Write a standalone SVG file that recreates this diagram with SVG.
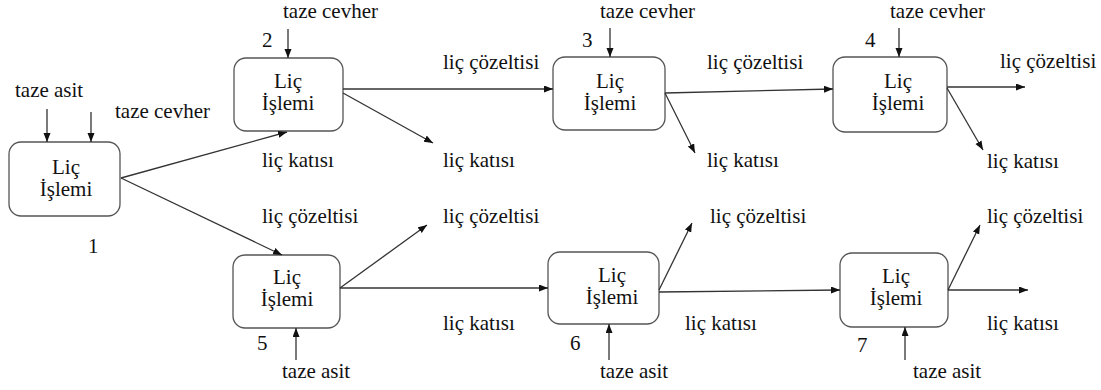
<svg xmlns="http://www.w3.org/2000/svg" width="1101" height="390" viewBox="0 0 1101 390">
<style>
text{font-family:'Liberation Serif','Times New Roman','DejaVu Serif',serif;font-size:21px;fill:#111}
.box{fill:#fff;stroke:#555;stroke-width:1.3}
.c line{stroke:#333;stroke-width:1.3;marker-end:url(#ah)}
.m{text-anchor:middle}
</style>
<defs>
<marker id="ah" markerUnits="userSpaceOnUse" markerWidth="10" markerHeight="8" refX="9" refY="3.5" orient="auto">
<path d="M0,0 L9,3.5 L0,7 z" fill="#111"/>
</marker>
</defs>
<rect width="1101" height="390" fill="#fff"/>
<g font-family="Liberation Serif, Times New Roman, serif" font-size="21">
<g id="n1"><rect class="box" x="9" y="142" width="111" height="74" rx="12"/><text class="m" x="66" y="174">Liç</text><text class="m" x="66" y="196">İşlemi</text></g>
<g id="n2"><rect class="box" x="234" y="58" width="109" height="73" rx="12"/><text class="m" x="288" y="88">Liç</text><text class="m" x="288" y="110">İşlemi</text></g>
<g id="n3"><rect class="box" x="553" y="57" width="112" height="73" rx="12"/><text class="m" x="610" y="88">Liç</text><text class="m" x="610" y="110">İşlemi</text></g>
<g id="n4"><rect class="box" x="833" y="57" width="114" height="75" rx="12"/><text class="m" x="898" y="88">Liç</text><text class="m" x="898" y="110">İşlemi</text></g>
<g id="n5"><rect class="box" x="233" y="255" width="107" height="73" rx="12"/><text class="m" x="287" y="284">Liç</text><text class="m" x="287" y="306">İşlemi</text></g>
<g id="n6"><rect class="box" x="548" y="252" width="111" height="72" rx="12"/><text class="m" x="612" y="282">Liç</text><text class="m" x="612" y="304">İşlemi</text></g>
<g id="n7"><rect class="box" x="840" y="253" width="108" height="74" rx="12"/><text class="m" x="896" y="283">Liç</text><text class="m" x="896" y="305">İşlemi</text></g>
<g class="c" id="connectors">
<line x1="47" y1="109" x2="47" y2="142"/>
<line x1="91" y1="112" x2="91" y2="142"/>
<line x1="121" y1="178" x2="287" y2="132"/>
<line x1="121" y1="178" x2="282" y2="255"/>
<line x1="288" y1="29" x2="288" y2="58"/>
<line x1="343" y1="89" x2="553" y2="89"/>
<line x1="343" y1="93" x2="433" y2="143"/>
<line x1="610" y1="28" x2="610" y2="57"/>
<line x1="665" y1="93" x2="833" y2="89"/>
<line x1="665" y1="93" x2="695" y2="153"/>
<line x1="899" y1="28" x2="899" y2="57"/>
<line x1="947" y1="87" x2="1025" y2="87"/>
<line x1="947" y1="88" x2="983" y2="150"/>
<line x1="340" y1="288" x2="427" y2="225"/>
<line x1="340" y1="288" x2="548" y2="288"/>
<line x1="296" y1="360" x2="296" y2="328"/>
<line x1="659" y1="290" x2="692" y2="223"/>
<line x1="659" y1="292" x2="840" y2="290"/>
<line x1="609" y1="360" x2="609" y2="324"/>
<line x1="948" y1="290" x2="980" y2="225"/>
<line x1="948" y1="290" x2="1028" y2="290"/>
<line x1="905" y1="360" x2="905" y2="327"/>
</g>
<g id="labels">
<text x="15" y="97">taze asit</text>
<text x="115" y="118">taze cevher</text>
<text x="88" y="253">1</text>
<text x="283" y="18">taze cevher</text>
<text x="262" y="47">2</text>
<text x="443" y="69">liç çözeltisi</text>
<text x="262" y="167">liç katısı</text>
<text x="443" y="167">liç katısı</text>
<text x="600" y="18">taze cevher</text>
<text x="582" y="47">3</text>
<text x="707" y="69">liç çözeltisi</text>
<text x="707" y="167">liç katısı</text>
<text x="890" y="18">taze cevher</text>
<text x="865" y="47">4</text>
<text x="1000" y="68">liç çözeltisi</text>
<text x="987" y="168">liç katısı</text>
<text x="262" y="223">liç çözeltisi</text>
<text x="443" y="223">liç çözeltisi</text>
<text x="443" y="330">liç katısı</text>
<text x="257" y="350">5</text>
<text x="282" y="378">taze asit</text>
<text x="710" y="223">liç çözeltisi</text>
<text x="685" y="330">liç katısı</text>
<text x="570" y="350">6</text>
<text x="600" y="378">taze asit</text>
<text x="987" y="223">liç çözeltisi</text>
<text x="987" y="330">liç katısı</text>
<text x="857" y="352">7</text>
<text x="913" y="378">taze asit</text>
</g>
</g>
</svg>
